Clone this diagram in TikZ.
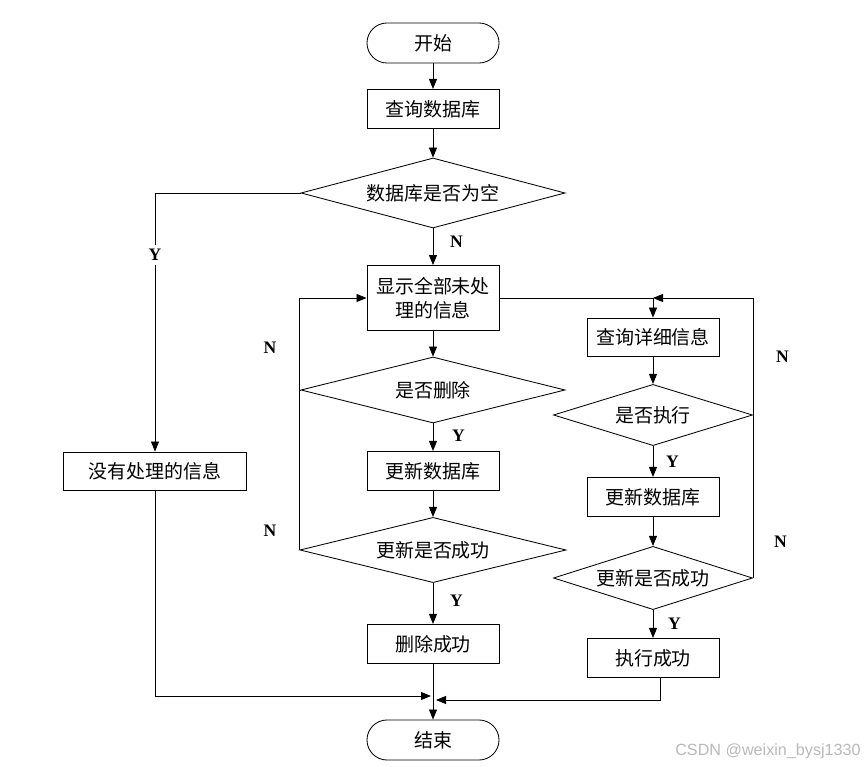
\documentclass[tikz,border=0pt]{standalone}
\usepackage{fontspec}
\setmainfont{Liberation Serif}
\newfontfamily\cjk{Noto Sans CJK SC}
\newfontfamily\marksans{Liberation Sans}
\usetikzlibrary{shapes.geometric,arrows.meta}

\begin{document}
\begin{tikzpicture}[x=0.025cm, y=-0.025cm, line width=0.6pt,
        >={Triangle[length=0.25cm,width=0.2cm]}]
      \tikzstyle{word} = [font=\cjk\fontsize{13.5}{17}\selectfont]
      \tikzstyle{term} = [word, draw, rounded corners=0.5cm, minimum width=3.3cm, minimum height=1cm]
      \tikzstyle{proc} = [word, draw, align=center, minimum width=3.3cm, minimum height=0.98cm]
      \tikzstyle{ask} = [word, draw, diamond, aspect=4, inner sep=0pt]
      \tikzstyle{yn} = [font=\bfseries\fontsize{12.5}{14}\selectfont]
      \useasboundingbox (0,0) rectangle (864,767);
      % main column
      \node (start) [term] at (433,43) {开始};
      \node (query) [proc] at (433,109) {查询数据库};
      \node (empty) [ask, minimum width=6.6cm, minimum height=1.75cm] at (433,193) {数据库是否为空};
      \node (show) [proc, minimum height=1.625cm] at (433,298) {显示全部未处\\理的信息};
      \node (del) [ask, minimum width=6.6cm, minimum height=1.65cm] at (433,390) {是否删除};
      \node (upd1) [proc] at (433,471) {更新数据库};
      \node (ok1) [ask, minimum width=6.65cm, minimum height=1.63cm] at (433,550) {更新是否成功};
      \node (delok) [proc] at (433,644) {删除成功};
      \node (end) [term] at (433,740) {结束};
      % left branch
      \node (none) [proc, minimum width=4.575cm, minimum height=0.95cm] at (155,471) {没有处理的信息};
      % right column
      \node (detail) [proc, minimum height=0.95cm] at (653,337) {查询详细信息};
      \node (exec) [ask, minimum width=4.975cm, minimum height=1.53cm] at (653,415) {是否执行};
      \node (upd2) [proc, minimum height=0.98cm] at (653,497) {更新数据库};
      \node (ok2) [ask, minimum width=4.975cm, minimum height=1.58cm] at (653,578) {更新是否成功};
      \node (execok) [proc, minimum height=0.98cm] at (653,658) {执行成功};
      \node (mark) [font=\marksans\fontsize{11.5}{13}\selectfont, text=gray!55] at (768,751) {CSDN @weixin\_bysj1330};
      \coordinate (rj) at (detail.north |- show.east);
      \coordinate (bl) at (431,696);
      \coordinate (br) at (436,700);

      \draw[->] (start) -- (query);
      \draw[->] (query) -- (empty);
      \draw[->] (empty.west) -| node[yn, fill=white, pos=0.62] {Y} (none);
      \draw[->] (empty) -- node[yn, right=0.3cm, pos=0.35] {N} (show);
      \draw[->] (show) -- (del);
      \draw[->] (del) -- node[yn, right=0.35cm, pos=0.45] {Y} (upd1);
      \draw[->] (upd1) -- (ok1);
      \draw[->] (ok1) -- node[yn, right=0.3cm, pos=0.43] {Y} (delok);
      \draw[->] (del.west) -- (ok1.west |- del.west) |- node[yn, left=0.45cm, pos=0.23] {N} (show.west);
      \draw (ok1.west) -- node[yn, left=0.45cm, pos=0.12] {N} (ok1.west |- del.west);
      \draw[->] (show.east) -- (rj) -- (detail.north);
      \draw[->] (detail) -- (exec);
      \draw[->] (exec) -- node[yn, right=0.2cm, pos=0.5] {Y} (upd2);
      \draw[->] (upd2) -- (ok2);
      \draw[->] (ok2) -- node[yn, right=0.25cm, pos=0.5] {Y} (execok);
      \draw[->] (exec.east) |- node[yn, right=0.45cm, pos=0.25] {N} (rj);
      \draw (ok2.east) -- node[yn, right=0.4cm, pos=0.22] {N} (exec.east);
      \draw[->] (delok) -- (end);
      \draw[->] (none.south) |- (bl);
      \draw[->] ([xshift=0.18cm]execok.south) |- (br);
    \end{tikzpicture}
\end{document}
